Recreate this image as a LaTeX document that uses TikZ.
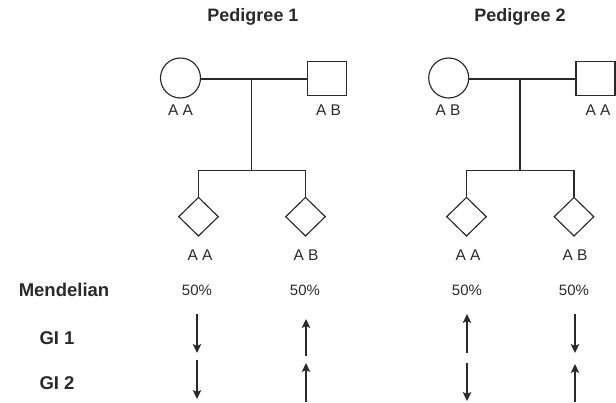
\documentclass[tikz,border=0pt]{standalone}
\usepackage{fontspec}
\setmainfont{Liberation Sans}
\usetikzlibrary{shapes.geometric,arrows.meta}
\definecolor{ink}{HTML}{2A2A2A}
\begin{document}
\begin{tikzpicture}[x=1pt,y=-1pt,
  line width=1.15pt, draw=ink, text=ink,
  female/.style={draw=ink,circle,minimum size=40pt,inner sep=0pt},
  male/.style={draw=ink,rectangle,minimum width=39pt,minimum height=34pt,inner sep=0pt},
  child/.style={draw=ink,diamond,minimum width=40pt,minimum height=39pt,inner sep=0pt},
  geno/.style={font=\fontsize{15.5}{16}\selectfont,inner sep=0pt,text=ink},
  pct/.style={font=\fontsize{15}{16}\selectfont,inner sep=0pt,text=ink},
  title/.style={font=\fontsize{18}{20}\selectfont\bfseries,inner sep=0pt,text=ink},
  rowlab/.style={font=\fontsize{18.5}{20}\selectfont\bfseries,inner sep=0pt,text=ink},
  gi/.style={draw=ink,-{Stealth[length=9pt,width=8.5pt,inset=2pt,fill=ink]},line width=1.2pt}]
\useasboundingbox (0,0) rectangle (616,402);

% titles
\node[title] (t1) at (253,17) {Pedigree 1};
\node[title] (t2) at (520,17) {Pedigree 2};

% Pedigree 1
\node[female] (f1) at (180.5,78) {};
\node[male] (m1) at (327,78.5) {};
\node[geno] (gf1) at (180.5,110) {A A};
\node[geno] (gm1) at (328.5,110) {A B};
\coordinate (mid1) at (251.5,79);
\coordinate (br1) at (251.5,170.5);
\draw (f1.east |- mid1) -- (m1.west |- mid1);
\draw (mid1) -- (br1);
\node[child] (c11) at (198.5,216.7) {};
\node[child] (c12) at (305.5,216.7) {};
\draw (c11.north) |- (br1) -| (c12.north);
\node[geno] (gc11) at (200,255) {A A};
\node[geno] (gc12) at (306,255) {A B};

% Pedigree 2
\node[female] (f2) at (448.7,78) {};
\node[male] (m2) at (595.5,78.5) {};
\node[geno] (gf2) at (448,110) {A B};
\node[geno] (gm2) at (598,110) {A A};
\coordinate (mid2) at (520,79);
\coordinate (br2) at (520,170.5);
\draw (f2.east |- mid2) -- (m2.west |- mid2);
\draw (mid2) -- (br2);
\node[child] (c21) at (466.5,216.7) {};
\node[child] (c22) at (574,216.7) {};
\draw (c21.north) |- (br2) -| (c22.north);
\node[geno] (gc21) at (468,255) {A A};
\node[geno] (gc22) at (575,255) {A B};

% row labels
\node[rowlab] (rm) at (64,290) {Mendelian};
\node[rowlab] (rg1) at (57,338) {GI 1};
\node[rowlab] (rg2) at (57,383) {GI 2};

% percentages
\node[pct] (p1) at (197,290) {50\%};
\node[pct] (p2) at (305,290) {50\%};
\node[pct] (p3) at (467,290) {50\%};
\node[pct] (p4) at (574,290) {50\%};

% GI 1 arrows
\coordinate (a1t) at (197,314); \coordinate (a1b) at (197,353);
\coordinate (a2t) at (306,319); \coordinate (a2b) at (306,356);
\coordinate (a3t) at (467,314); \coordinate (a3b) at (467,353);
\coordinate (a4t) at (575,314); \coordinate (a4b) at (575,353);
\draw[gi] (a1t) -- (a1b);
\draw[gi] (a2b) -- (a2t);
\draw[gi] (a3b) -- (a3t);
\draw[gi] (a4t) -- (a4b);

% GI 2 arrows
\coordinate (b1t) at (197,360); \coordinate (b1b) at (197,399);
\coordinate (b2t) at (306,363); \coordinate (b2b) at (306,402);
\coordinate (b3t) at (467,363); \coordinate (b3b) at (467,401);
\coordinate (b4t) at (575,364); \coordinate (b4b) at (575,402);
\draw[gi] (b1t) -- (b1b);
\draw[gi] (b2b) -- (b2t);
\draw[gi] (b3t) -- (b3b);
\draw[gi] (b4b) -- (b4t);
\end{tikzpicture}
\end{document}
